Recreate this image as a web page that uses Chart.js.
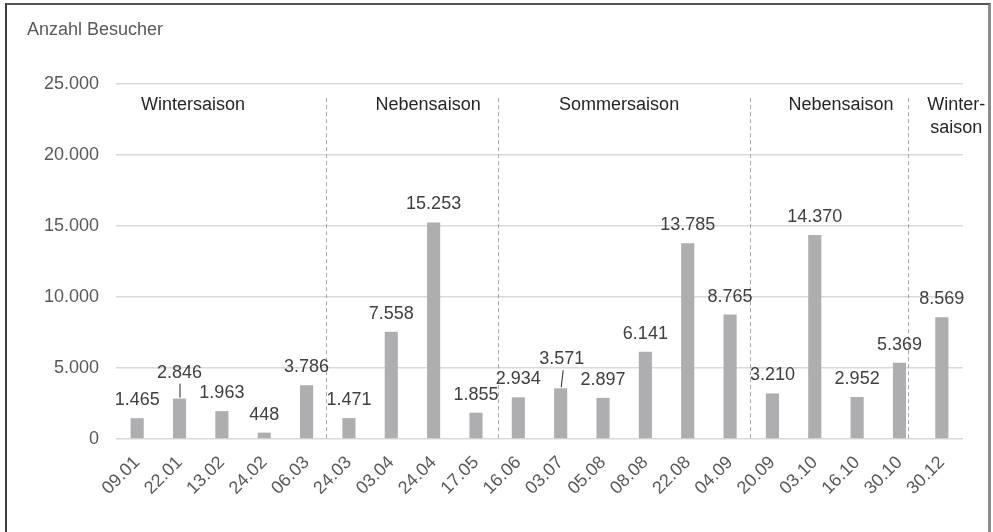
<!DOCTYPE html>
<html>
<head>
<meta charset="utf-8">
<script src="https://cdn.jsdelivr.net/npm/chart.js@4.4.1/dist/chart.umd.min.js"></script>
<style>
  html, body { margin: 0; padding: 0; background: #fff; overflow: hidden; }
  #wrap { position: relative; width: 993px; height: 532px; }
  #frame {
    position: absolute; left: 5px; top: 3px; width: 986px; height: 540px;
    box-sizing: border-box; pointer-events: none;
    border-left: 2px solid #3c3c3c; border-top: 2px solid #555;
    border-right: 3px solid #8c8c8c;
  }
  canvas { position: absolute; left: 0; top: 0; }
</style>
</head>
<body>
<div id="wrap">
  <canvas id="c" width="993" height="532"></canvas>
  <div id="frame"></div>
</div>
<script>
// Besuchstage und Anzahl der Besucher
const dates = ['09.01','22.01','13.02','24.02','06.03','24.03','03.04','24.04','17.05','16.06',
               '03.07','05.08','08.08','22.08','04.09','20.09','03.10','16.10','30.10','30.12'];
const visitors = [1465, 2846, 1963, 448, 3786, 1471, 7558, 15253, 1855, 2934,
                  3571, 2897, 6141, 13785, 8765, 3210, 14370, 2952, 5369, 8569];

// Achsenbereich der Besucherzahlen
const yMin = 0;
const yMax = 25000;
const yStep = 5000;
const axisTitle = 'Anzahl Besucher';

// Saisonabschnitte: Trennlinien (in Kategorie-Einheiten) und Beschriftungen
const seasonBreaks = [4.46, 8.52, 14.46, 18.19];
const seasonNames = [['Wintersaison'], ['Nebensaison'], ['Sommersaison'], ['Nebensaison'], ['Winter-', 'saison']];
const seasonCenters = [1.32, 6.87, 11.38, 16.62, 19.34];

// Beschriftungen, die mit Hinweislinie angehoben sind (Index -> Abstand in px)
const liftedLabels = { 1: 26, 10: 29 };

const FONT = "'Liberation Sans', Arial, sans-serif";
const fmt = v => String(v).replace(/\B(?=(\d{3})+(?!\d))/g, '.');

const annotations = {
  id: 'annotations',
  afterDatasetsDraw(chart) {
    const { ctx, scales: { x, y } } = chart;
    const step = x.getPixelForValue(1) - x.getPixelForValue(0);
    const atCat = p => x.getPixelForValue(0) + p * step;
    ctx.save();

    // gestrichelte Saisongrenzen
    ctx.strokeStyle = '#a8a8a8';
    ctx.lineWidth = 1;
    ctx.setLineDash([4, 3]);
    seasonBreaks.forEach(b => {
      const px = Math.round(atCat(b)) + 0.5;
      ctx.beginPath();
      ctx.moveTo(px, y.getPixelForValue(24000));
      ctx.lineTo(px, y.getPixelForValue(0) + 2);
      ctx.stroke();
    });
    ctx.setLineDash([]);

    // Saisonnamen
    ctx.fillStyle = '#262626';
    ctx.font = '18px ' + FONT;
    ctx.textAlign = 'center';
    ctx.textBaseline = 'middle';
    seasonNames.forEach((lines, i) => {
      const cx = atCat(seasonCenters[i]);
      lines.forEach((t, k) => ctx.fillText(t, cx, y.getPixelForValue(23500) + k * 23));
    });

    // Werte über den Balken
    const bars = chart.getDatasetMeta(0).data;
    ctx.fillStyle = '#404040';
    ctx.strokeStyle = '#262626';
    ctx.lineWidth = 1;
    bars.forEach((bar, i) => {
      const lift = liftedLabels[i] || 18;
      const ly = bar.y - lift;
      ctx.fillText(fmt(visitors[i]), bar.x + (i === 10 ? 1 : 0), ly);
      if (liftedLabels[i]) {
        const slant = i === 10 ? 2 : 0;
        ctx.beginPath();
        ctx.moveTo(bar.x + 0.5 + slant, ly + 11);
        ctx.lineTo(bar.x + 0.5, bar.y - 1);
        ctx.stroke();
      }
    });

    // Achsentitel
    ctx.fillStyle = '#595959';
    ctx.textAlign = 'left';
    ctx.fillText(axisTitle, 27, 30);
    ctx.restore();
  }
};

new Chart(document.getElementById('c'), {
  type: 'bar',
  data: {
    labels: dates,
    datasets: [{
      data: visitors,
      backgroundColor: '#aeaeb1',
      barPercentage: 0.31,
      categoryPercentage: 1.0
    }]
  },
  options: {
    responsive: false,
    animation: false,
    devicePixelRatio: 1,
    layout: { padding: { left: 0, top: 84, right: 30, bottom: 0 } },
    plugins: { legend: { display: false }, tooltip: { enabled: false }, title: { display: false } },
    scales: {
      x: {
        grid: { display: false, drawTicks: false },
        border: { display: false },
        ticks: {
          autoSkip: false, maxRotation: 45, minRotation: 45, padding: 13,
          color: '#595959', font: { family: FONT, size: 18 }
        },
        afterFit: s => { s.height = 93; }
      },
      y: {
        min: yMin, max: yMax,
        grid: { color: '#d9d9d9', lineWidth: 1.5, drawTicks: false },
        border: { display: false },
        ticks: {
          stepSize: yStep, padding: 17,
          color: '#595959', font: { family: FONT, size: 18 },
          callback: v => fmt(v)
        },
        afterFit: s => { s.width = 116; }
      }
    }
  },
  plugins: [annotations]
});
</script>
</body>
</html>
